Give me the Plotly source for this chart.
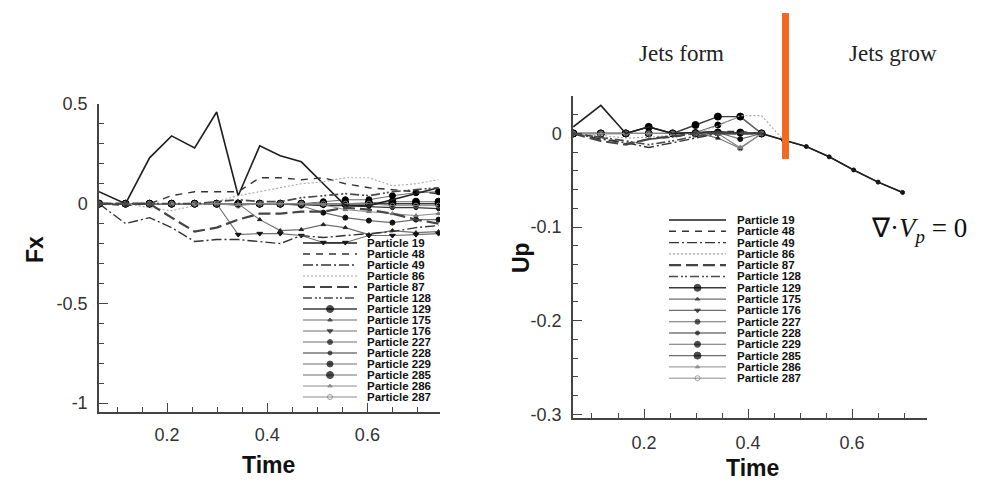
import plotly.graph_objects as go

W, H = 983, 486

# ---------------- data ----------------
particles = ["19", "48", "49", "86", "87", "128", "129", "175", "176",
             "227", "228", "229", "285", "286", "287"]

times = [0.064, 0.117, 0.165, 0.209, 0.255, 0.299, 0.342, 0.385, 0.426,
         0.468, 0.512, 0.556, 0.603, 0.650, 0.697, 0.742]

# Fx (left panel)
fx_19 = [0.06, 0.00, 0.23, 0.34, 0.28, 0.46, 0.04, 0.29, 0.24, 0.21, 0.10, -0.01, -0.01, 0.02, 0.05, 0.08]
fx_48 = [0.00, -0.01, 0.00, 0.04, 0.06, 0.06, 0.06, 0.13, 0.13, 0.12, 0.13, 0.10, 0.08, 0.07, 0.06, 0.05]
fx_49 = [0.00, -0.10, -0.07, -0.12, -0.19, -0.18, -0.18, -0.19, -0.20, -0.16, -0.17, -0.16, -0.15, -0.14, -0.12, -0.11]
fx_86 = [0.00, 0.00, -0.02, -0.035, -0.01, 0.01, 0.04, 0.06, 0.08, 0.10, 0.11, 0.13, 0.13, 0.09, 0.10, 0.12]
fx_87 = [0.00, 0.00, 0.00, -0.07, -0.14, -0.12, -0.08, -0.05, -0.05, -0.04, -0.04, -0.02, -0.03, -0.05, -0.08, -0.10]
fx_128 = [0.00, 0.00, 0.00, 0.00, 0.00, 0.01, 0.02, 0.01, 0.01, 0.03, 0.04, 0.05, 0.04, 0.06, 0.07, 0.08]
fx_129 = [0.00, 0.00, 0.00, 0.00, 0.00, 0.00, 0.00, 0.00, 0.00, 0.00, 0.00, 0.00, 0.00, 0.00, 0.00, 0.00]
fx_175 = [0.00, 0.00, 0.00, 0.00, 0.00, 0.00, 0.00, -0.08, -0.135, -0.13, -0.105, -0.12, -0.155, -0.135, -0.145, -0.14]
fx_176 = [0.00, 0.00, 0.00, 0.00, 0.00, 0.00, -0.155, -0.15, -0.15, -0.16, -0.195, -0.195, -0.16, -0.16, -0.155, -0.15]
fx_227 = [0.00, 0.00, 0.00, 0.00, 0.00, 0.00, 0.00, 0.00, 0.00, -0.01, -0.045, -0.07, -0.085, -0.095, -0.08, -0.08]
fx_228 = [0.00, 0.00, 0.00, 0.00, 0.00, 0.00, 0.00, 0.00, 0.00, -0.005, -0.01, -0.01, -0.015, -0.02, -0.02, -0.025]
fx_229 = [0.00, 0.00, 0.00, 0.00, 0.00, 0.00, 0.00, 0.00, 0.00, 0.00, 0.01, 0.02, 0.02, 0.04, 0.055, 0.06]
fx_285 = [0.00, 0.00, 0.00, 0.00, 0.00, 0.00, 0.00, 0.00, 0.00, 0.00, 0.00, 0.00, 0.005, 0.01, 0.01, 0.01]
fx_286 = [0.00, 0.00, 0.00, 0.00, 0.00, 0.00, 0.00, 0.00, 0.00, 0.00, -0.005, -0.03, -0.04, -0.05, -0.06, -0.05]
fx_287 = [0.00, 0.00, 0.00, 0.00, 0.00, 0.00, -0.01, 0.00, 0.00, 0.00, 0.00, 0.00, 0.00, -0.01, -0.01, -0.01]

# Up (right panel); series that stop early simply have fewer values
up_19 = [0.007, 0.030, 0.000, 0.007, 0.000, 0.001, 0.002, 0.000, 0.000, -0.007, -0.014, -0.025, -0.039, -0.052, -0.063]
up_48 = [0.000, -0.004, -0.011, -0.006, -0.004, 0.000, 0.002, 0.002, 0.000]
up_49 = [0.000, -0.006, -0.010, -0.015, -0.010, -0.005, 0.000, 0.000, 0.000]
up_86 = [0.000, -0.002, -0.005, -0.004, -0.002, 0.000, 0.008, 0.019, 0.019, -0.007]
up_87 = [0.000, -0.008, -0.012, -0.006, -0.003, 0.000, 0.000, 0.000, 0.000]
up_128 = [0.000, -0.004, -0.008, -0.012, -0.008, -0.003, 0.000, 0.000, 0.000]
up_129 = [0.000, 0.000, 0.000, 0.007, 0.000, 0.009, 0.018, 0.018, 0.000]
up_175 = [0.000, 0.000, 0.000, 0.000, 0.000, 0.001, -0.005, -0.016, 0.000]
up_176 = [0.000, 0.000, 0.000, 0.000, 0.000, 0.001, 0.001, 0.000, 0.000]
up_227 = [0.000, 0.000, 0.000, 0.000, 0.000, 0.000, 0.001, -0.006, 0.000]
up_228 = [0.000, 0.000, 0.000, 0.000, 0.000, 0.000, 0.000, 0.000, 0.000, -0.007, -0.014, -0.025, -0.039, -0.052, -0.063]
up_229 = [0.000, 0.000, 0.000, 0.007, 0.000, 0.001, 0.009, 0.018, 0.000]
up_285 = [0.000, 0.000, 0.000, 0.000, 0.000, 0.000, 0.001, 0.001, 0.000]
up_286 = [0.000, 0.000, 0.000, 0.000, 0.000, 0.000, 0.000, -0.015, 0.000]
up_287 = [0.000, 0.000, 0.000, 0.000, 0.000, 0.000, 0.000, -0.016, 0.000]

fx_ticks = [-1, -0.5, 0, 0.5]
fx_ticktext = ["-1", "-0.5", "0", "0.5"]
up_ticks = [-0.3, -0.2, -0.1, 0]
up_ticktext = ["-0.3", "-0.2", "-0.1", "0"]
time_ticks = [0.2, 0.4, 0.6]
time_ticktext = ["0.2", "0.4", "0.6"]

fx_series = [fx_19, fx_48, fx_49, fx_86, fx_87, fx_128, fx_129, fx_175, fx_176,
             fx_227, fx_228, fx_229, fx_285, fx_286, fx_287]
up_series = [up_19, up_48, up_49, up_86, up_87, up_128, up_129, up_175, up_176,
             up_227, up_228, up_229, up_285, up_286, up_287]

# ---------------- styles ----------------
ML = "#6e6e6e"
styles = [
    dict(color="#1e1e1e", width=1.6, dash="solid", size=0, sym="circle", mc="#000"),
    dict(color="#333333", width=1.4, dash="7px,6px", size=0, sym="circle", mc="#000"),
    dict(color="#333333", width=1.4, dash="10px,3px,2px,3px", size=0, sym="circle", mc="#000"),
    dict(color="#a8a8a8", width=1.1, dash="2px,2px", size=0, sym="circle", mc="#000"),
    dict(color="#444444", width=2.2, dash="12px,5px", size=0, sym="circle", mc="#000"),
    dict(color="#4a4a4a", width=1.7, dash="9px,3px,2px,2px,2px,3px", size=0, sym="circle", mc="#000"),
    dict(color="#3c3c3c", width=1.4, dash="solid", size=7, sym="circle", mc="#000"),
    dict(color=ML, width=1.1, dash="solid", size=4, sym="triangle-up", mc="#222"),
    dict(color=ML, width=1.1, dash="solid", size=5, sym="triangle-down", mc="#111"),
    dict(color=ML, width=1.1, dash="solid", size=5, sym="circle", mc="#111"),
    dict(color="#333333", width=1.2, dash="solid", size=4, sym="circle", mc="#111"),
    dict(color=ML, width=1.1, dash="solid", size=6, sym="circle", mc="#000"),
    dict(color=ML, width=1.1, dash="solid", size=7, sym="circle", mc="#000"),
    dict(color="#8a8a8a", width=1.0, dash="solid", size=4, sym="triangle-up", mc="#777"),
    dict(color="#8a8a8a", width=1.0, dash="solid", size=5, sym="circle-open", mc="#777"),
]

fig = go.Figure()


def add_series(xs, ys, st, xa, ya, name):
    mode = "lines+markers" if st["size"] > 0 else "lines"
    fig.add_trace(go.Scatter(
        x=xs, y=ys, xaxis=xa, yaxis=ya, mode=mode, name=name, showlegend=False,
        line=dict(color=st["color"], width=st["width"], dash=st["dash"]),
        marker=dict(size=st["size"], symbol=st["sym"], color=st["mc"],
                    line=dict(width=1, color=st["mc"])),
    ))


# draw marker series first, then the styled lines on top
order = list(range(6, 15)) + list(range(0, 6))
for i in order:
    add_series(times, fx_series[i], styles[i], "x", "y", "Particle " + particles[i])
for i in order:
    add_series(times[:len(up_series[i])], up_series[i], styles[i], "x2", "y2", "Particle " + particles[i])


# ---------------- legends (hidden helper axes) ----------------
def legend_block(xa, ya):
    for r, p in enumerate(particles):
        st = styles[r]
        mode = "lines+markers" if st["size"] > 0 else "lines"
        fig.add_trace(go.Scatter(
            x=[0.0, 0.5, 1.0], y=[r, r, r], xaxis=xa, yaxis=ya, mode=mode, showlegend=False,
            hoverinfo="skip",
            line=dict(color=st["color"], width=st["width"], dash=st["dash"]),
            marker=dict(size=[0, st["size"], 0], symbol=st["sym"], color=st["mc"],
                        line=dict(width=1, color=st["mc"])),
        ))
        fig.add_annotation(x=1.15, y=r, xref=xa, yref=ya, text="<b>Particle " + p + "</b>",
                           showarrow=False, xanchor="left", yanchor="middle",
                           font=dict(family="Liberation Sans", size=11.5, color="#111"))


legend_block("x3", "y3")
legend_block("x4", "y4")


def px(x):
    return x / W


def py(y):
    return 1 - y / H


tickfont = dict(family="Liberation Sans", size=18, color="#333")
axis_common = dict(showline=True, linecolor="#444", linewidth=1.5, ticks="inside",
                   ticklen=9, tickwidth=1.3, tickcolor="#444", showgrid=False,
                   zeroline=False, tickfont=tickfont, tickmode="array", fixedrange=True,
                   automargin=False)

fig.update_layout(
    width=W, height=H, autosize=False,
    margin=dict(l=0, r=0, t=0, b=0, pad=0, autoexpand=False),
    paper_bgcolor="white", plot_bgcolor="rgba(0,0,0,0)",
    showlegend=False,
    xaxis=dict(domain=[px(99), px(440)], range=[0.064, 0.745], anchor="y",
               tickvals=time_ticks, ticktext=time_ticktext, ticklabelstandoff=6,
               minor=dict(dtick=0.05, tick0=0, ticks="inside", ticklen=5,
                          tickwidth=1, tickcolor="#444"),
               **axis_common),
    yaxis=dict(domain=[py(412), py(104)], range=[-1.045, 0.5], anchor="x",
               tickvals=fx_ticks, ticktext=fx_ticktext, ticklabelstandoff=6,
               minor=dict(dtick=0.1, tick0=0, ticks="inside", ticklen=5,
                          tickwidth=1, tickcolor="#444"),
               **axis_common),
    xaxis2=dict(domain=[px(573), px(927)], range=[0.0635, 0.744], anchor="y2",
                tickvals=time_ticks, ticktext=time_ticktext, ticklabelstandoff=8,
                minor=dict(dtick=0.05, tick0=0, ticks="inside", ticklen=5,
                           tickwidth=1, tickcolor="#444"),
                **axis_common),
    yaxis2=dict(domain=[py(418), py(96)], range=[-0.304, 0.04], anchor="x2",
                tickvals=up_ticks, ticktext=up_ticktext, ticklabelstandoff=6,
                minor=dict(dtick=0.02, tick0=0, ticks="inside", ticklen=5,
                           tickwidth=1, tickcolor="#444"),
                **axis_common),
    xaxis3=dict(domain=[px(303), px(440)], range=[0, 137 / 54], visible=False,
                anchor="y3", fixedrange=True, automargin=False),
    yaxis3=dict(domain=[py(243 + 5.5 + 14 * 11.0), py(243 - 5.5)], range=[14.5, -0.5],
                visible=False, anchor="x3", fixedrange=True, automargin=False),
    xaxis4=dict(domain=[px(669), px(820)], range=[0, 151 / 57], visible=False,
                anchor="y4", fixedrange=True, automargin=False),
    yaxis4=dict(domain=[py(220 + 5.65 + 14 * 11.3), py(220 - 5.65)], range=[14.5, -0.5],
                visible=False, anchor="x4", fixedrange=True, automargin=False),
)

title_font = dict(family="Liberation Sans", size=23, color="#111")
for txt, x, y, ang in [("<b>Fx</b>", 35, 250, -90), ("<b>Up</b>", 521, 258, -90),
                       ("<b>Time</b>", 268, 465, 0), ("<b>Time</b>", 752, 468, 0)]:
    fig.add_annotation(x=px(x), y=py(y), xref="paper", yref="paper", text=txt,
                       showarrow=False, textangle=ang, font=title_font,
                       xanchor="center", yanchor="middle")

serif = dict(family="Liberation Serif", size=23, color="#222")
fig.add_annotation(x=px(681), y=py(53), xref="paper", yref="paper", text="Jets form",
                   showarrow=False, font=serif, xanchor="center", yanchor="middle")
fig.add_annotation(x=px(893), y=py(53), xref="paper", yref="paper", text="Jets grow",
                   showarrow=False, font=serif, xanchor="center", yanchor="middle")
fig.add_annotation(x=px(919), y=py(230), xref="paper", yref="paper",
                   text="\u2207\u00b7<i>V</i><sub><i>p</i></sub> = 0",
                   showarrow=False, font=dict(family="Liberation Serif", size=27, color="#111"),
                   xanchor="center", yanchor="middle")

# orange separator bar
fig.add_shape(type="rect", xref="paper", yref="paper",
              x0=px(782), x1=px(789), y0=py(159), y1=py(13),
              fillcolor="#F26A21", line=dict(width=0), layer="above")

fig.write_html("out.html")
